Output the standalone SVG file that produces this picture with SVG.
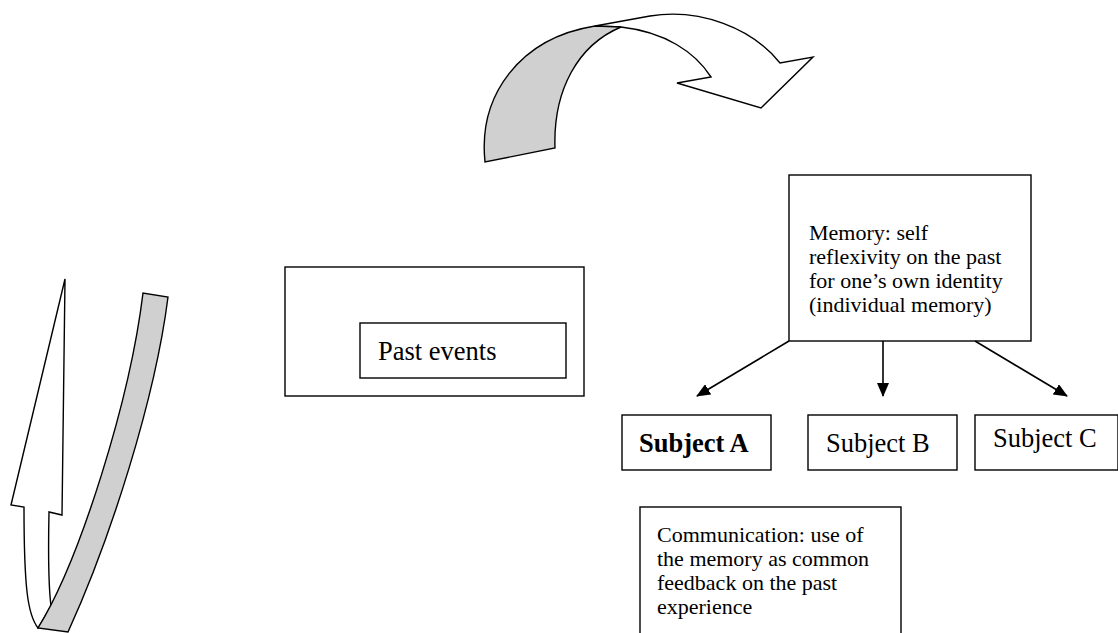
<svg xmlns="http://www.w3.org/2000/svg" width="1118" height="633" viewBox="0 0 1118 633">
<style>
.box{fill:#fff;stroke:#000;stroke-width:1.4}
.shape{stroke:#000;stroke-width:1.4;stroke-linejoin:miter}
.w{fill:#fff}
.g{fill:#d0d0d0}
.t{font-family:"Liberation Serif","Times New Roman",serif;fill:#000}
.big{font-size:26.5px}
.sm{font-size:22px}
.conn{stroke:#000;stroke-width:1.6;fill:none;marker-end:url(#ah)}
</style>
<defs>
<marker id="ah" viewBox="0 0 14 12" refX="13" refY="6" markerWidth="14" markerHeight="12" markerUnits="userSpaceOnUse" orient="auto">
<path d="M0,0 L14,6 L0,12 Z" fill="#000"/>
</marker>
</defs>
<rect width="1118" height="633" fill="#fff"/>

<g id="top-arrow">
<path class="shape w" d="M595,26 L650,16 C700,8 752,28 780,63 L813,57 L761,108 L677,83 L711,77 C695,52 665,32 621,27 Z"/>
<path class="shape g" d="M485,162 C478,95 520,38 595,26 L621,27 C578,45 553,90 555,148 Z"/>
</g>

<g id="left-arrow">
<path class="shape w" d="M65,279 L62,515 L49,512 C48,560 49,590 51,606 L38,628 C28,615 24,590 24,507 L11,505 Z"/>
<path class="shape g" d="M143,293 C130,400 80,560 38,628 L68,632 C110,540 155,400 168,297 Z"/>
</g>

<g id="past-events-outer">
<rect class="box" x="285" y="267" width="299" height="129"/>
</g>
<g id="past-events">
<rect class="box" x="360" y="323" width="206" height="55"/>
<text class="t big" x="378" y="360">Past events</text>
</g>

<g id="memory">
<rect class="box" x="789" y="175" width="242" height="166"/>
<text class="t sm" x="809" y="240">Memory: self</text>
<text class="t sm" x="809" y="264">reflexivity on the past</text>
<text class="t sm" x="809" y="288">for one’s own identity</text>
<text class="t sm" x="809" y="312">(individual memory)</text>
</g>

<g id="subject-a">
<rect class="box" x="622" y="415" width="149" height="55"/>
<text class="t big" x="639" y="452" font-weight="bold">Subject A</text>
</g>
<g id="subject-b">
<rect class="box" x="808" y="415" width="149" height="55"/>
<text class="t big" x="826" y="452">Subject B</text>
</g>
<g id="subject-c">
<rect class="box" x="975" y="415" width="143" height="55"/>
<text class="t big" x="993" y="447">Subject C</text>
</g>

<g id="communication">
<rect class="box" x="640" y="507" width="261" height="140"/>
<text class="t sm" x="657" y="542">Communication: use of</text>
<text class="t sm" x="657" y="566">the memory as common</text>
<text class="t sm" x="657" y="590">feedback on the past</text>
<text class="t sm" x="657" y="614">experience</text>
</g>

<g id="connectors">
<line class="conn" x1="789" y1="341" x2="697" y2="396"/>
<line class="conn" x1="883" y1="341" x2="883" y2="396"/>
<line class="conn" x1="975" y1="341" x2="1067" y2="396"/>
</g>
</svg>
